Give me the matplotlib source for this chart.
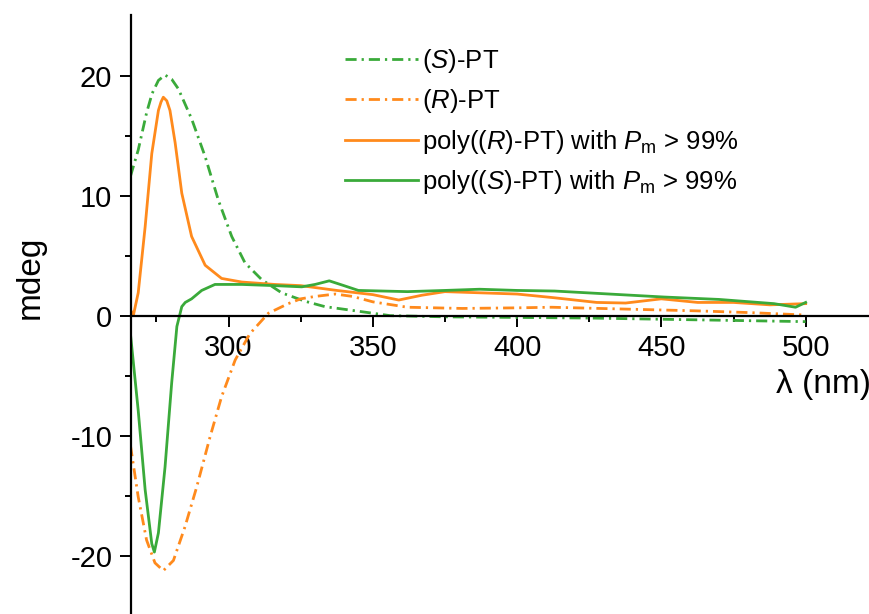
import matplotlib
matplotlib.use("Agg")
import matplotlib.pyplot as plt

# (S)-PT, dash-dot green
lam_s = [266, 268.7, 271.6, 273.5, 275.7, 278, 280.3, 282.6, 287.2, 291.9, 296.5, 301.1,
         305.7, 311.5, 318.4, 326.5, 333.4, 341, 350, 356, 375, 400, 425, 450, 475, 500]
cd_s = [11.6, 13.8, 16.9, 18.5, 19.6, 20.05, 19.7, 18.9, 16.4, 13.25, 9.6, 6.6,
        4.4, 3.0, 1.9, 1.2, 0.75, 0.5, 0.2, 0.0, -0.1, -0.15, -0.2, -0.3, -0.4, -0.5]

# (R)-PT, dash-dot orange
lam_r = [266, 268.7, 271.6, 274.5, 277.4, 280.9, 284.9, 289, 293.6, 297.6, 302.3,
         307.4, 313.8, 320.7, 325, 330, 337, 343, 350, 362, 381, 400, 412, 437,
         462, 481, 500]
cd_r = [-10.8, -15.1, -18.7, -20.6, -21.25, -20.4, -17.6, -14.25, -10.1, -6.75, -3.7,
        -1.5, 0.2, 1.0, 1.4, 1.6, 1.8, 1.6, 1.15, 0.7, 0.6, 0.65, 0.7, 0.55,
        0.4, 0.25, 0.05]

# poly((R)-PT), solid orange
lam_pr = [266, 267, 268.7, 271.1, 273.4, 275.7, 276.6, 277.4, 278.6, 279.7, 281.5,
          283.8, 287.2, 291.9, 297.6, 304.6, 316, 325, 337.5, 350, 359, 367, 375,
          387.5, 400, 412.5, 427.6, 437.6, 450, 462.6, 475, 487.6, 500]
cd_pr = [0.5, 0.0, 1.9, 7.4, 13.5, 17.1, 17.8, 18.2, 17.9, 17.1, 14.4,
         10.2, 6.6, 4.2, 3.1, 2.8, 2.6, 2.5, 2.1, 1.75, 1.3, 1.7, 2.0,
         1.9, 1.8, 1.5, 1.1, 1.05, 1.4, 1.1, 1.1, 0.9, 1.0]

# poly((S)-PT), solid green
lam_ps = [266, 268.7, 271.1, 273.4, 274.3, 275.7, 278, 280.3, 282.1, 283.8, 285,
          287.2, 290.7, 295.3, 304.6, 316, 325.4, 330, 334.9, 340, 345, 362, 375,
          387, 400, 413, 432, 451, 470, 489, 496.5, 500]
cd_ps = [-1.5, -7.9, -14.5, -19.0, -19.7, -18.1, -12.6, -5.6, -0.9, 0.75, 1.1,
         1.4, 2.1, 2.6, 2.6, 2.5, 2.4, 2.6, 2.9, 2.5, 2.1, 2.0, 2.1,
         2.2, 2.1, 2.05, 1.8, 1.55, 1.35, 1.0, 0.7, 1.1]

labels = [r"($\mathit{S}$)-PT",
          r"($\mathit{R}$)-PT",
          r"poly(($\mathit{R}$)-PT) with $\mathit{P}_\mathrm{m}$ > 99%",
          r"poly(($\mathit{S}$)-PT) with $\mathit{P}_\mathrm{m}$ > 99%"]

x_ticks = [300, 350, 400, 450, 500]
y_ticks = [-20, -10, 0, 10, 20]

green = "#3AAA3A"
orange = "#FF8A1C"

plt.rcParams["font.family"] = ["Liberation Sans", "DejaVu Sans"]
plt.rcParams["mathtext.fontset"] = "custom"
plt.rcParams["mathtext.rm"] = "Liberation Sans"
plt.rcParams["mathtext.it"] = "Liberation Sans:italic"
plt.rcParams["axes.unicode_minus"] = False

W, H = 870, 614
fig = plt.figure(figsize=(W / 100, H / 100), dpi=100)
ax = fig.add_axes([131 / W, 0, 1 - 131 / W, 1 - 15 / H])

dd = (4.0, 1.8, 0.8, 1.8)
ax.plot(lam_s, cd_s, color=green, lw=2.0, dashes=dd, label=labels[0])
ax.plot(lam_r, cd_r, color=orange, lw=2.0, dashes=dd, label=labels[1])
ax.plot(lam_pr, cd_pr, color=orange, lw=2.0, label=labels[2])
ax.plot(lam_ps, cd_ps, color=green, lw=2.0, label=labels[3])

ax.set_xlim(266.2, 522.3)
ax.set_ylim(-24.86, 25.05)

# Origin-style axes: left spine + x axis through zero
ax.spines["top"].set_visible(False)
ax.spines["right"].set_visible(False)
ax.spines["bottom"].set_position(("data", 0))
for s in ("left", "bottom"):
    ax.spines[s].set_linewidth(1.6)

ax.set_xticks(x_ticks)
ax.set_xticks([275, 325, 375, 425, 475], minor=True)
ax.set_yticks(y_ticks)
ax.set_yticks([-15, -5, 5, 15], minor=True)
ax.tick_params(axis="both", which="major", direction="out", length=8, width=1.4,
               labelsize=21, pad=5.5)
ax.tick_params(axis="both", which="minor", direction="out", length=4, width=1.4)

fig.text(30 / W, 1 - 277 / H, "mdeg", rotation=90, fontsize=24,
         ha="center", va="center")
fig.text(776 / W, 1 - 385 / H, "λ (nm)", fontsize=24, ha="left", va="center")

ax.legend(loc="upper left", bbox_to_anchor=(345 / W, 1 - 47 / H),
          bbox_transform=fig.transFigure, frameon=False, fontsize=18.5,
          handlelength=2.85, handletextpad=0.15, labelspacing=0.48,
          borderpad=0, borderaxespad=0)

fig.savefig("out.png", dpi=100)
